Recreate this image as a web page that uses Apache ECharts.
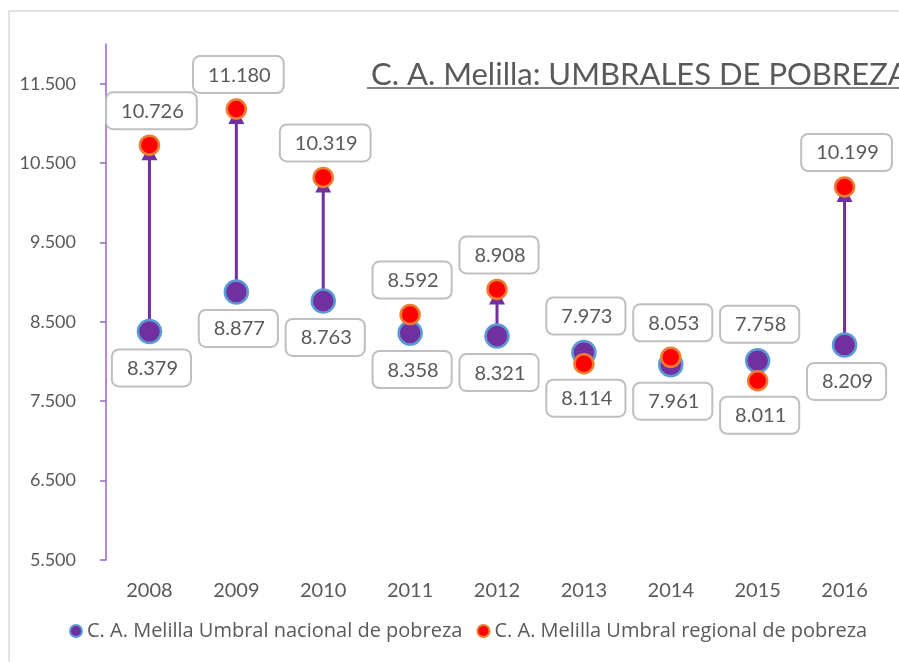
<!DOCTYPE html>
<html>
<head>
<meta charset="utf-8">
<script src="https://cdn.jsdelivr.net/npm/echarts@6/dist/echarts.min.js"></script>
<style>
  html, body { margin: 0; padding: 0; background: #fff; }
  #chart { width: 899px; height: 662px; }
</style>
</head>
<body>
<div id="chart"></div>
<script>
  const years = ['2008', '2009', '2010', '2011', '2012', '2013', '2014', '2015', '2016']
  const nacional = [8379, 8877, 8763, 8358, 8321, 8114, 7961, 8011, 8209]
  const regional = [10726, 11180, 10319, 8592, 8908, 7973, 8053, 7758, 10199]
  const yTicks = [5500, 6500, 7500, 8500, 9500, 10500, 11500]

  const nameNac = 'C. A. Melilla Umbral nacional de pobreza'
  const nameReg = 'C. A. Melilla Umbral regional de pobreza'
  const font = 'Lato, "Open Sans", sans-serif'
  const grey = '#595959'
  const rNac = 13   // radio aprox. del marcador nacional (con borde)
  const rReg = 11

  function fmt(v) {
    return String(v).replace(/\B(?=(\d{3})+(?!\d))/g, '.')
  }

  function box(x, y, text, vAlign) {
    return {
      type: 'text',
      x: x + 2,
      y: y,
      style: {
        text: text,
        fill: grey,
        font: '20px Lato',
        align: 'center',
        verticalAlign: vAlign,
        backgroundColor: '#fff',
        borderColor: '#bfbfbf',
        borderWidth: 2,
        borderRadius: 6,
        padding: [8, 12, 7, 14]
      }
    }
  }

  const rows = years.map((y, i) => [i, nacional[i], regional[i]])

  const chart = echarts.init(document.getElementById('chart'))
  chart.setOption({
    backgroundColor: '#fff',
    animation: false,
    title: {
      text: 'C. A. Melilla: UMBRALES DE POBREZA',
      left: 366,
      top: 54,
      textStyle: { color: grey, fontFamily: font, fontSize: 31, fontWeight: 'normal' }
    },
    graphic: [
      {
        type: 'rect',
        shape: { x: 9, y: 11, width: 1200, height: 1000 },
        style: { fill: null, stroke: '#d9d9d9', lineWidth: 1.5 },
        silent: true
      },
      {
        type: 'line',
        shape: { x1: 367, y1: 88, x2: 905, y2: 88 },
        style: { stroke: grey, lineWidth: 1.5 },
        silent: true
      }
    ],
    grid: { left: 106, right: 11, top: 44, bottom: 102 },
    legend: {
      left: 69,
      top: 621,
      padding: 0,
      icon: 'circle',
      itemWidth: 12,
      itemHeight: 12,
      itemGap: 14,
      textStyle: { color: grey, fontFamily: '"Open Sans", sans-serif', fontSize: 20 },
      data: [nameNac, nameReg]
    },
    xAxis: {
      type: 'category',
      data: years,
      axisLine: { show: false },
      axisTick: { show: false },
      axisLabel: { color: grey, fontFamily: font, fontSize: 20, margin: 21 }
    },
    yAxis: {
      type: 'value',
      min: 5500,
      max: 12000,
      splitLine: { show: false },
      axisLine: { show: true, lineStyle: { color: '#9a62d0', width: 1.5 } },
      axisTick: { show: true, length: 6, lineStyle: { color: '#9a62d0', width: 1.5 }, customValues: yTicks },
      axisLabel: {
        color: grey, fontFamily: font, fontSize: 18, margin: 30,
        customValues: yTicks,
        formatter: v => fmt(v)
      }
    },
    series: [
      {
        // flechas nacional -> regional
        type: 'custom',
        silent: true,
        z: 1,
        data: rows,
        renderItem(params, api) {
          const lo = api.value(1)
          const hi = api.value(2)
          if (hi <= lo) return
          const a = api.coord([api.value(0), lo])
          const b = api.coord([api.value(0), hi])
          const c = '#7030a0'
          return {
            type: 'group',
            children: [
              {
                type: 'line',
                shape: { x1: a[0], y1: a[1], x2: b[0], y2: b[1] + 8 },
                style: { stroke: c, lineWidth: 3 }
              },
              {
                type: 'polygon',
                shape: { points: [[b[0] - 8, b[1] + 15], [b[0] + 8, b[1] + 15], [b[0], b[1]]] },
                style: { fill: c }
              }
            ]
          }
        }
      },
      {
        name: nameNac,
        type: 'scatter',
        z: 2,
        symbol: 'circle',
        symbolSize: 23,
        data: years.map((y, i) => [i, nacional[i]]),
        itemStyle: { color: '#7030a0', borderColor: '#5b9bd5', borderWidth: 2.5, opacity: 1 }
      },
      {
        name: nameReg,
        type: 'scatter',
        z: 3,
        symbol: 'circle',
        symbolSize: 19,
        data: years.map((y, i) => [i, regional[i]]),
        itemStyle: { color: '#ff0000', borderColor: '#ed7d31', borderWidth: 2.5, opacity: 1 }
      },
      {
        // etiquetas: regional arriba, nacional abajo
        type: 'custom',
        silent: true,
        z: 4,
        data: rows,
        renderItem(params, api) {
          const pn = api.coord([api.value(0), api.value(1)])
          const pr = api.coord([api.value(0), api.value(2)])
          const topY = Math.min(pn[1] - rNac, pr[1] - rReg) - 6
          const botY = Math.max(pn[1] + rNac, pr[1] + rReg) + 6
          return {
            type: 'group',
            children: [
              box(pn[0], topY, fmt(api.value(2)), 'bottom'),
              box(pn[0], botY, fmt(api.value(1)), 'top')
            ]
          }
        }
      }
    ]
  })
</script>
</body>
</html>
